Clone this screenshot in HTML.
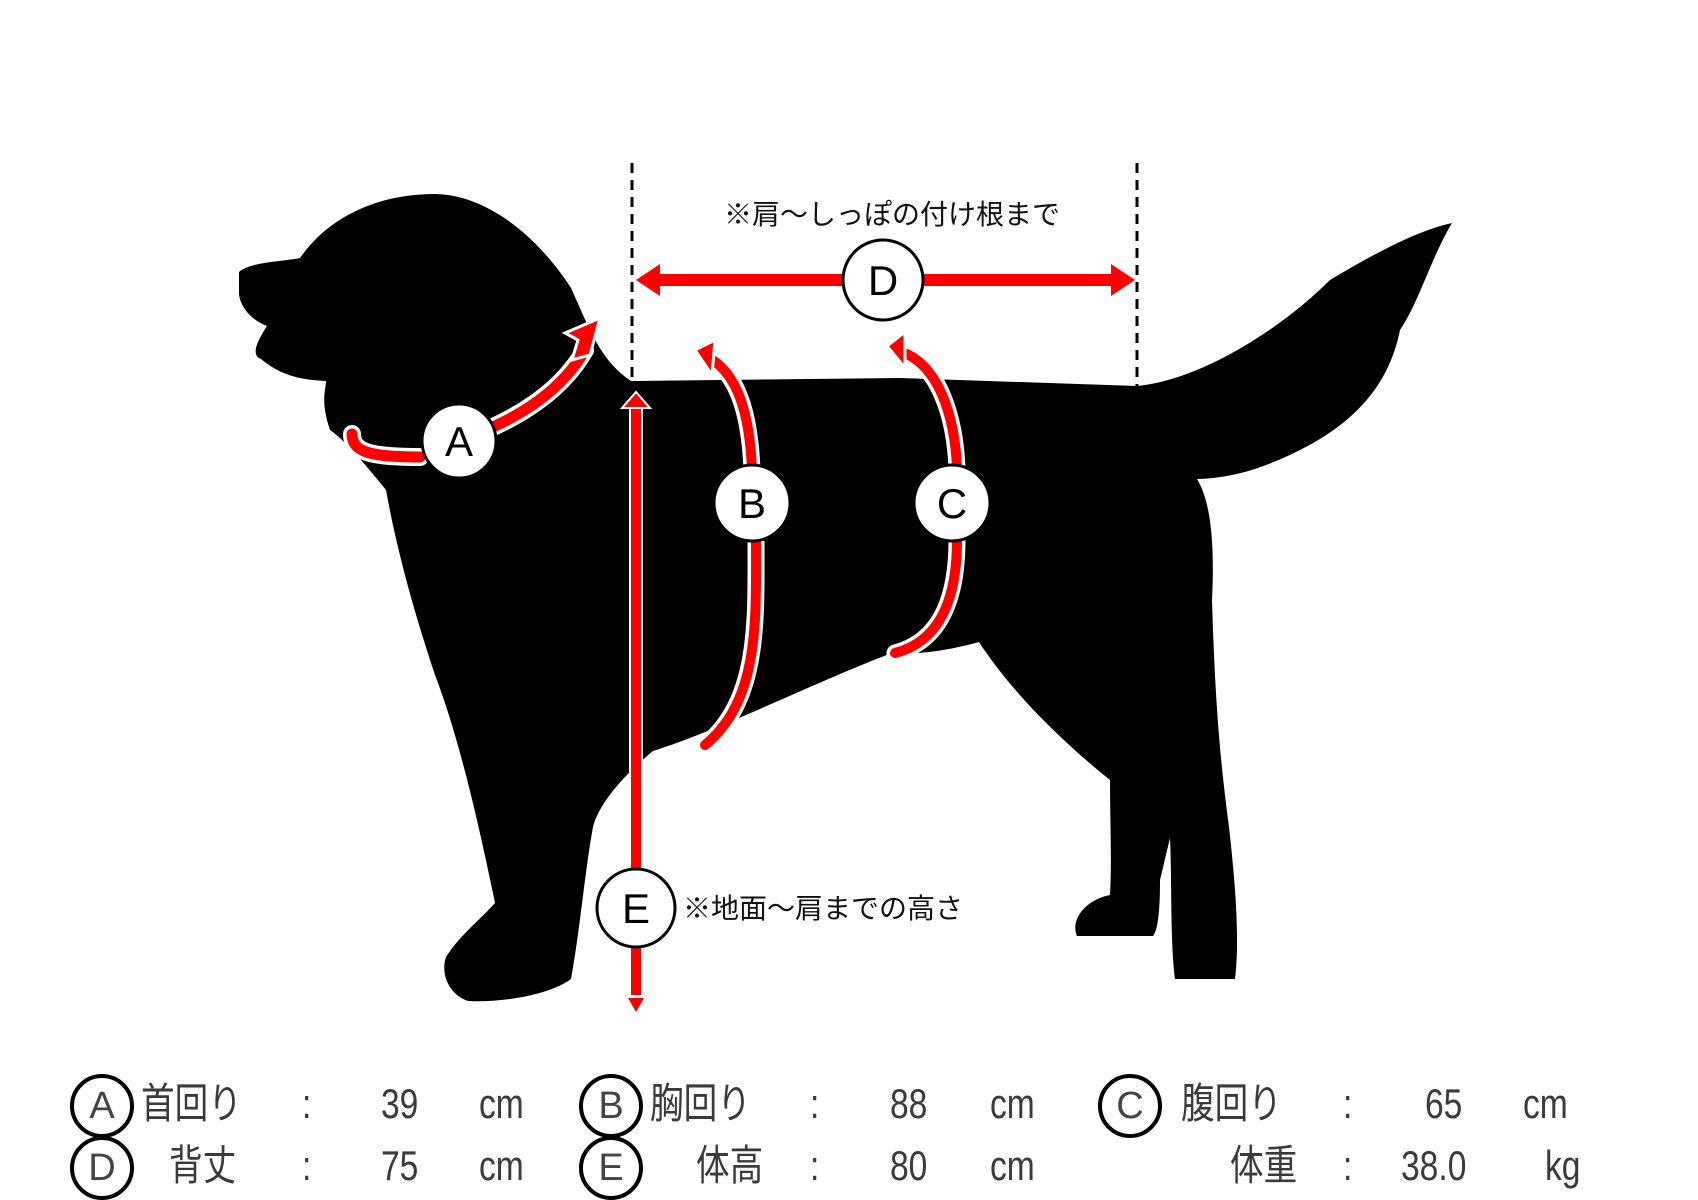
<!DOCTYPE html>
<html><head><meta charset="utf-8"><style>
body{margin:0;background:#fff;width:1698px;height:1200px;overflow:hidden;position:relative;font-family:"Liberation Sans","Noto Sans CJK JP",sans-serif}
.t{position:absolute;font-size:42px;color:#3a3a3a;line-height:1;transform:scaleX(0.8);transform-origin:left center;white-space:nowrap}
.c{position:absolute;width:56px;height:56px;border:4px solid #000;border-radius:50%;font-size:38px;color:#444;text-align:center;line-height:56px;box-sizing:content-box}
</style></head><body>
<svg width="1698" height="1200" style="position:absolute;left:0;top:0">
<path fill="#000" d="M239,272 C250,262 280,262 300,258 C330,215 380,194 435,194 C490,195 540,240 571,288 C590,330 600,360 631,381 L900,378 L1137,386 C1200,380 1280,330 1330,280 C1380,250 1420,230 1452,223 C1430,260 1420,300 1400,330 C1390,380 1360,420 1300,450 C1260,470 1230,478 1197,479 C1210,500 1215,540 1212,600 C1215,700 1220,760 1229,827 C1235,880 1240,940 1235,979 L1175,979 C1170,940 1172,880 1170,838 L1160,880 C1160,910 1158,930 1153,936 L1077,936 C1070,920 1085,900 1110,895 C1112,860 1110,820 1110,780 C1060,740 1010,690 979,642 C950,650 920,655 892,653 C820,680 720,730 653,751 C630,770 600,800 593,827 C585,870 580,930 571,979 C550,995 500,1003 468,1001 C450,995 440,975 446,957 C460,935 480,920 495,903 C480,830 460,740 435,675 C410,600 395,540 386,490 C370,470 345,440 330,430 C320,400 326,390 326,381 C300,380 280,375 261,359 C250,355 258,340 267,326 C250,320 240,305 239,294 Z"/>
<g stroke="#000" stroke-width="3" stroke-dasharray="10,7"><line x1="632" y1="163" x2="632" y2="381"/><line x1="1137" y1="163" x2="1137" y2="392"/></g>
<g fill="none" stroke-linecap="round">
<path d="M352,434 C352,452 370,457 420,457 M493,427 C530,410 565,385 585,350" stroke="#fff" stroke-width="18"/>
<path d="M352,434 C352,452 370,457 420,457 M493,427 C530,410 565,385 585,350" stroke="#f00" stroke-width="11"/>
<path d="M703,355 C740,370 750,420 752,470 M756,540 C756,620 760,700 705,745" stroke="#fff" stroke-width="17"/>
<path d="M703,355 C740,370 750,420 752,470 M756,540 C756,620 760,700 705,745" stroke="#f00" stroke-width="10"/>
<path d="M895,350 C940,360 955,420 957,468 M957,540 C957,590 945,640 895,653" stroke="#fff" stroke-width="17"/>
<path d="M895,350 C940,360 955,420 957,468 M957,540 C957,590 945,640 895,653" stroke="#f00" stroke-width="10"/>
</g>
<polygon points="600,318 565,333 578,340 572,360 590,355" fill="#f00" stroke="#fff" stroke-width="3"/>
<polygon points="695,350 715,340 712,375" fill="#f00" stroke="#fff" stroke-width="3"/>
<polygon points="887,346 905,332 905,368" fill="#f00" stroke="#fff" stroke-width="3"/>
<rect x="650" y="274" width="470" height="12" fill="#f00"/>
<polygon points="636,280 660,264 660,296" fill="#f00"/>
<polygon points="1135,280 1111,264 1111,296" fill="#f00"/>
<rect x="629" y="405" width="14" height="590" fill="#fff"/>
<rect x="631" y="405" width="10" height="590" fill="#f00"/>
<polygon points="636,392 622,408 650,408" fill="#f00" stroke="#fff" stroke-width="2"/>
<polygon points="636,1012 628,998 644,998" fill="#f00"/>
<g fill="#fff" stroke="#000" stroke-width="3">
<circle cx="459" cy="441" r="37"/><circle cx="883" cy="280" r="40"/><circle cx="752" cy="503" r="38"/><circle cx="952" cy="503" r="38"/><circle cx="636" cy="908" r="39"/>
</g>
<g font-family="Liberation Sans, sans-serif" font-size="42" text-anchor="middle" fill="#000">
<text x="459" y="456">A</text><text x="883" y="295">D</text><text x="752" y="518">B</text><text x="952" y="518">C</text><text x="636" y="923">E</text>
</g>
<g font-family="Liberation Sans, Noto Sans CJK JP, sans-serif" font-size="28" fill="#111">
<text x="892" y="224" text-anchor="middle">※肩～しっぽの付け根まで</text>
<text x="683" y="918">※地面～肩までの高さ</text>
</g>
</svg>
<div class="c" style="left:70px;top:1074px">A</div>
<div class="t" style="left:141px;top:1083px">首回り</div><div class="t" style="left:302px;top:1083px">:</div><div class="t" style="left:381px;top:1083px">39</div><div class="t" style="left:479px;top:1083px">cm</div>
<div class="c" style="left:579px;top:1074px">B</div>
<div class="t" style="left:650px;top:1083px">胸回り</div><div class="t" style="left:810px;top:1083px">:</div><div class="t" style="left:890px;top:1083px">88</div><div class="t" style="left:990px;top:1083px">cm</div>
<div class="c" style="left:1098px;top:1074px">C</div>
<div class="t" style="left:1181px;top:1083px">腹回り</div><div class="t" style="left:1343px;top:1083px">:</div><div class="t" style="left:1425px;top:1083px">65</div><div class="t" style="left:1523px;top:1083px">cm</div>
<div class="c" style="left:70px;top:1136px">D</div>
<div class="t" style="left:169px;top:1145px">背丈</div><div class="t" style="left:302px;top:1145px">:</div><div class="t" style="left:381px;top:1145px">75</div><div class="t" style="left:479px;top:1145px">cm</div>
<div class="c" style="left:579px;top:1136px">E</div>
<div class="t" style="left:696px;top:1145px">体高</div><div class="t" style="left:810px;top:1145px">:</div><div class="t" style="left:890px;top:1145px">80</div><div class="t" style="left:990px;top:1145px">cm</div>
<div class="t" style="left:1230px;top:1145px">体重</div><div class="t" style="left:1343px;top:1145px">:</div><div class="t" style="left:1401px;top:1145px">38.0</div><div class="t" style="left:1545px;top:1145px">kg</div>
</body></html>
